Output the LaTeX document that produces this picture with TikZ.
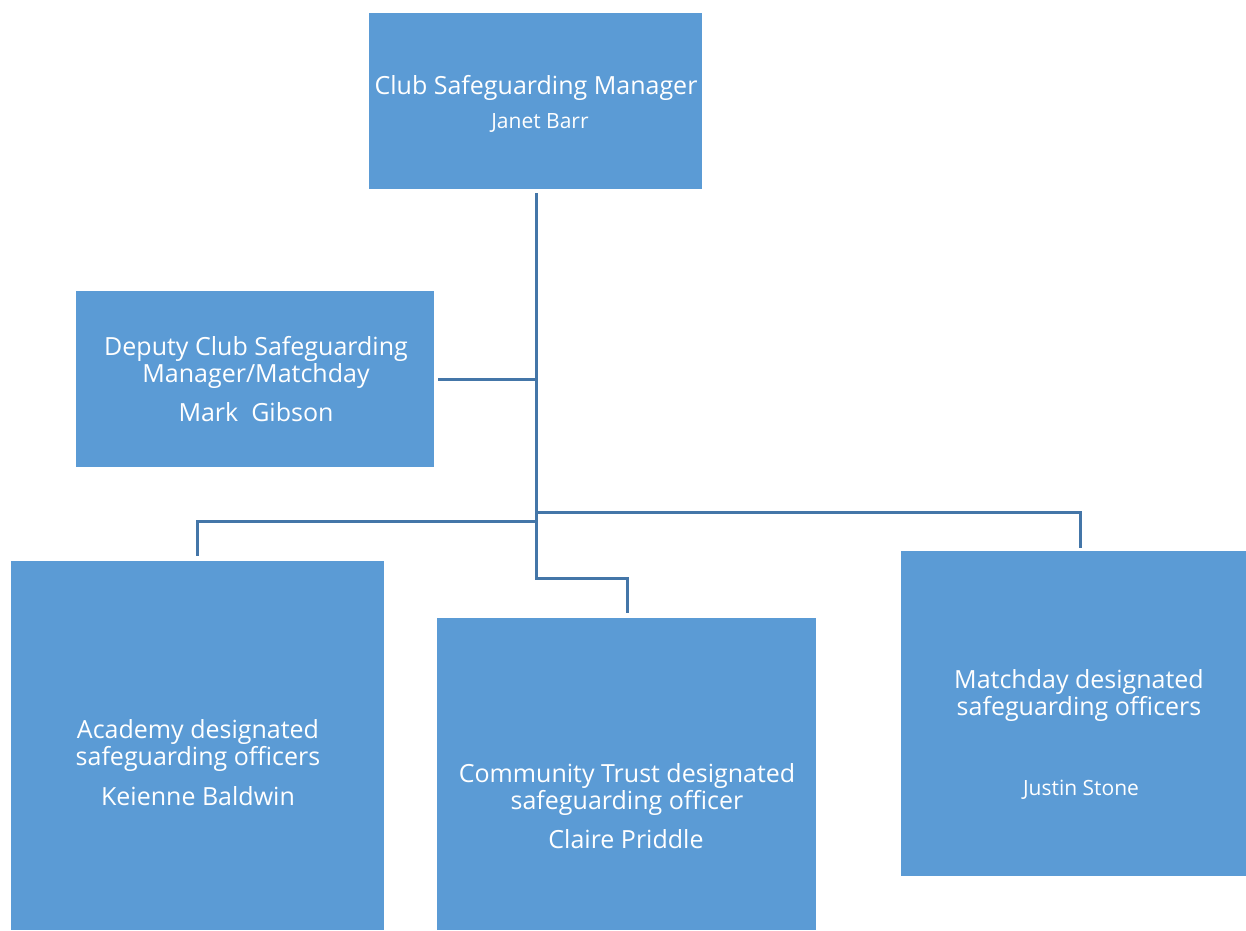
\documentclass[tikz,border=0pt]{standalone}
\usepackage{fontspec}
\setmainfont{Open Sans}
\usepackage{tikz}
\usepackage{xcolor}
\definecolor{boxblue}{RGB}{91, 155, 213}
\definecolor{lineblue}{RGB}{68, 118, 168}

\tikzset{
  rolebox/.style={fill=boxblue, draw=none, inner sep=0pt, anchor=north west},
  roletext/.style={text=white, align=center, font=\fontsize{25}{27}\selectfont},
  nametext/.style={text=white, align=center, font=\fontsize{21}{24}\selectfont},
  link/.style={draw=lineblue, line width=3pt}
}

\begin{document}
\begin{tikzpicture}[x=1pt, y=-1pt]
    \useasboundingbox[fill=white] (0,0) rectangle (1246,930);

    % Club manager box
    \node[rolebox, minimum width=333pt, minimum height=176pt] (manager) at (369,13) {};
    \node[roletext] (managerrole) at (536,88) {Club Safeguarding Manager};
    \node[nametext] (managername) at (540,123) {Janet Barr};

    % Deputy box
    \node[rolebox, minimum width=358pt, minimum height=176pt] (deputy) at (76,291) {};
    \node[roletext] (deputyrole) at (256,362) {Deputy Club Safeguarding\\Manager/Matchday};
    \node[roletext] (deputyname) at (256,412) {Mark\ \ Gibson};

    % Academy box
    \node[rolebox, minimum width=373pt, minimum height=369pt] (academy) at (11,561) {};
    \node[roletext] (academyrole) at (198,745) {Academy designated\\safeguarding officers};
    \node[roletext] (academyname) at (198,796) {Keienne Baldwin};

    % Community box
    \node[rolebox, minimum width=379pt, minimum height=312pt] (community) at (437,618) {};
    \node[roletext] (communityrole) at (627,789) {Community Trust designated\\safeguarding officer};
    \node[roletext] (communityname) at (626,839) {Claire Priddle};

    % Matchday box
    \node[rolebox, minimum width=345pt, minimum height=325pt] (matchday) at (901,551) {};
    \node[roletext] (matchdayrole) at (1079,695) {Matchday designated\\safeguarding officers};
    \node[nametext] (matchdayname) at (1081,790) {Justin Stone};

    % Connectors
    \coordinate (trunktop) at (536,193);
    \coordinate (deputyend) at (438,379);
    \coordinate (leftsplit) at (536,521);
    \coordinate (rightsplit) at (536,512);
    \coordinate (midturn) at (536,578);
    \coordinate (academytop) at (197,556);
    \coordinate (communitytop) at (627,613);
    \coordinate (matchdaytop) at (1080,548);

    \draw[link] (trunktop) -- (midturn) -| (communitytop);
    \draw[link] (deputyend) -- (deputyend -| trunktop);
    \draw[link] (leftsplit) -| (academytop);
    \draw[link] (rightsplit) -| (matchdaytop);
\end{tikzpicture}
\end{document}
